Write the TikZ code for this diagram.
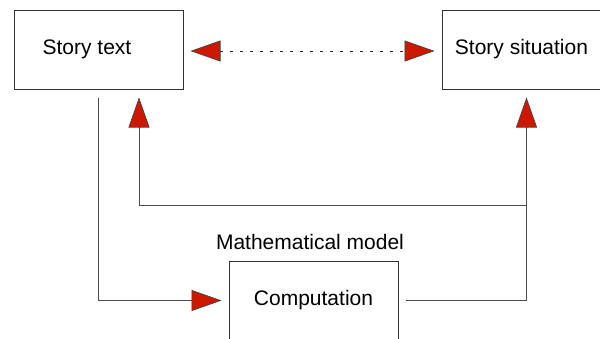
\documentclass[tikz,border=0pt]{standalone}
\usepackage{fontspec}
\setmainfont{Liberation Sans}
\usetikzlibrary{arrows.meta}
\definecolor{arrred}{RGB}{204,24,0}
\begin{document}
\begin{tikzpicture}[x=1pt,y=-1pt,
  box/.style={draw=black!80,line width=1pt,minimum width=169pt,minimum height=79pt,inner sep=0pt,font=\fontsize{21}{25}\selectfont},
  conn/.style={draw=black!70,line width=0.9pt},
  dots/.style={draw=black!85,line width=1pt,dash pattern=on 3pt off 7pt},
  tri/.tip={Triangle[length=30pt,width=21pt,fill=arrred,color=black!75,line width=0.6pt]},
  lbl/.style={font=\fontsize{21}{25}\selectfont,inner sep=0pt}]
\useasboundingbox (0,0) rectangle (600,338);
\clip (0,0) rectangle (600,338);
\fill[white] (0,0) rectangle (600,338);
\node[box] (st) at (98.5,49.5) {Story text\kern23pt};
\node[box] (ss) at (526.5,49.5) {Story situation\kern10pt};
\node[box] (comp) at (313.5,300.5) {Computation};
\node[lbl] (mm) at (310,242) {Mathematical model};
\coordinate (fb) at (526.5,205);
% dotted double arrow
\draw[dots,tri-tri,shorten <=7pt,shorten >=7pt] ([yshift=-1.5pt]st.east) -- ([yshift=-1.5pt]ss.west);
% story text down to computation
\draw[conn,-tri,shorten <=8pt,shorten >=7pt] (st.south) |- (comp.west);
% computation up to story situation
\draw[conn,-tri,shorten <=7pt,shorten >=8pt] (comp.east) -| (ss.south);
% feedback to story text
\draw[conn,-tri,shorten >=8pt] (fb) -| ([xshift=40.5pt]st.south);
\end{tikzpicture}
\end{document}
